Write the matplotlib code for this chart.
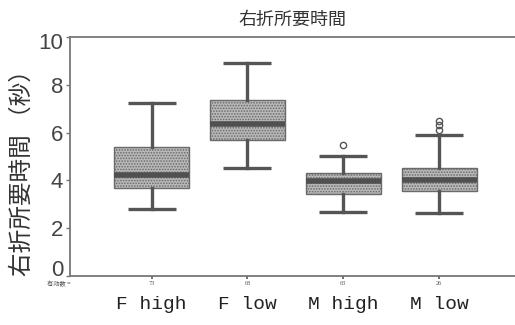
import matplotlib
matplotlib.use("Agg")
import matplotlib.pyplot as plt
import matplotlib.transforms as mtransforms

plt.rcParams['font.family'] = ['Liberation Sans', 'Noto Sans CJK JP', 'DejaVu Sans']
plt.rcParams['hatch.linewidth'] = 0.8

# ---- data ----
categories = ["F high", "F low", "M high", "M low"]
counts = ["73", "68", "63", "26"]
whislo = [2.82, 4.50, 2.69, 2.65]
q1 = [3.68, 5.68, 3.43, 3.55]
med = [4.24, 6.34, 3.97, 4.02]
q3 = [5.39, 7.37, 4.30, 4.50]
whishi = [7.23, 8.90, 5.00, 5.88]
fliers = [[], [], [5.50], [6.10, 6.30, 6.50]]
yticks = [0, 2, 4, 6, 8, 10]

title = "右折所要時間"
ylabel = "右折所要時間 （秒）"
n_label = "有効数 ="

fig = plt.figure(figsize=(5.15, 3.25), dpi=100)
ax = fig.add_axes([0.136, 0.151, 0.864, 0.735])

stats = []
for i, c in enumerate(categories):
    stats.append(dict(label=c, whislo=whislo[i], q1=q1[i], med=med[i],
                      q3=q3[i], whishi=whishi[i], fliers=fliers[i]))

positions = list(range(1, len(categories) + 1))
bp = ax.bxp(stats, positions=positions, widths=0.78, capwidths=0.5,
            patch_artist=True, showfliers=True,
            boxprops=dict(facecolor='#b9b9b9', edgecolor='#6a6a6a', linewidth=1.0, hatch='......'),
            medianprops=dict(color='#505050', linewidth=4.0, solid_capstyle='butt'),
            whiskerprops=dict(color='#555555', linewidth=2.4),
            capprops=dict(color='#555555', linewidth=2.4, solid_capstyle='butt'),
            flierprops=dict(marker='o', markersize=4.5, markerfacecolor='none',
                            markeredgecolor='#555555', markeredgewidth=1.0))

ax.set_xlim(0.15, 4.79)
ax.set_ylim(0, 10)
ax.set_yticks(yticks)
ax.set_yticklabels([str(t) for t in yticks], fontsize=16, color='#444444')
ax.tick_params(axis='y', length=3, width=1, color='#777777', pad=2)
ylabs = ax.get_yticklabels()
ylabs[0].set_transform(ylabs[0].get_transform() +
                       mtransforms.ScaledTranslation(0, 8 / 100, fig.dpi_scale_trans))
ylabs[-1].set_transform(ylabs[-1].get_transform() +
                        mtransforms.ScaledTranslation(0, -4 / 100, fig.dpi_scale_trans))
ax.set_xticks(positions)
ax.set_xticklabels(counts, fontsize=4.5, color='#555555', family='Liberation Serif')
ax.tick_params(axis='x', length=2, width=1.2, color='#555555', pad=2)

for s in ['left', 'bottom', 'top']:
    ax.spines[s].set_color('#777777')
    ax.spines[s].set_linewidth(1.3)
ax.spines['right'].set_visible(False)

ax.set_title(title, fontsize=13, color='#333333', pad=9,
             family=['Noto Sans CJK JP', 'DejaVu Sans'])
ax.set_ylabel(ylabel, fontsize=17, color='#333333',
              family=['Noto Sans CJK JP', 'DejaVu Sans'])
ax.yaxis.set_label_coords(-0.082, 0.456)

trans = mtransforms.blended_transform_factory(ax.transData, fig.transFigure)
for p, c in zip(positions, categories):
    ax.text(p, 0.062, c, transform=trans, ha='center', va='center',
            fontsize=14, family='Liberation Mono', color='#222222')

fig.text(0.092, 0.127, n_label, ha='left', va='center',
         fontsize=4.5, color='#555555', family=['Noto Sans CJK JP', 'DejaVu Sans'])

fig.savefig("out.png", dpi=100)
